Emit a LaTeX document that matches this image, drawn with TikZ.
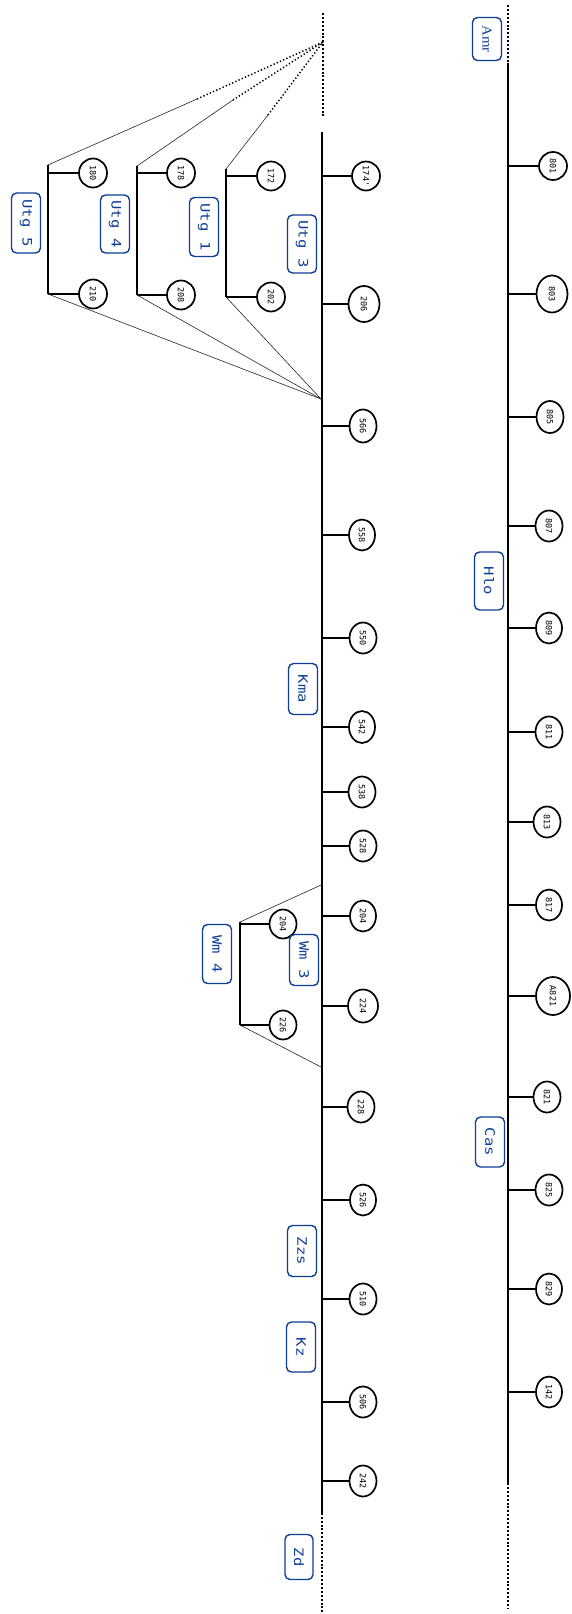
\documentclass[tikz,border=0pt]{standalone}
\usepackage{fontspec}
\usetikzlibrary{shapes.geometric}
\newfontfamily\numfam{DejaVu Sans Mono}
\newfontfamily\tagfam[FakeStretch=1.2]{DejaVu Sans Mono}
\newfontfamily\amrfam[FakeStretch=1.1]{Liberation Serif}
\definecolor{tagblue}{RGB}{14,62,150}
\begin{document}
\begin{tikzpicture}[x=1pt,y=-1pt,
  bus/.style={line width=2.4pt},
  busdots/.style={line width=2.6pt, dash pattern=on 2pt off 1.9pt},
  stub/.style={line width=2pt},
  bar/.style={line width=2.2pt},
  fan/.style={line width=0.6pt, draw=black!85},
  fandots/.style={line width=1.5pt, dash pattern=on 1.3pt off 2.2pt},
  num/.style={ellipse, draw, line width=1.7pt, inner sep=0pt, rotate=-90,
    fill=white, font=\numfam\fontsize{8.5}{8.5}\selectfont},
  tag/.style={draw=tagblue, text=tagblue, rounded corners=5pt, line width=1.4pt,
    rotate=-90, minimum height=29, inner sep=0pt, fill=white,
    font=\tagfam\fontsize{13}{13}\selectfont}]
\useasboundingbox (0,0) rectangle (571,1614);
\fill[white] (0,0) rectangle (571,1614);

% ---- right bus ----
\coordinate (rTop) at (508,5);
\coordinate (rA) at (508,63);
\coordinate (rB) at (508,1483);
\coordinate (rEnd) at (508,1608);
\draw[busdots] (rTop) -- (rA);
\draw[bus] (rA) -- (rB);
\draw[busdots] (rB) -- (rEnd);

\foreach \nm/\lab/\yy/\cx/\w/\h in {
  r801/801/166/553/28/28, r803/803/294/552/31/37, r805/805/417/550/27/32,
  r807/807/526/549/27/31, r809/809/628/549/26/31, r811/811/732/549/27/31,
  r813/813/822/547/27/31, r817/817/905/549/26/31, rA821/A821/996/553/34/38,
  r821/821/1097/547/27/31, r825/825/1190/549/27/31, r829/829/1289/549/26/31,
  r142/142/1392/549/26/31}{
  \node[num, minimum width=\h, minimum height=\w] (\nm) at (\cx,\yy) {\lab};
  \coordinate (b\nm) at (508,\yy);
  \draw[stub] (b\nm) -- (\nm);
}

% ---- main bus ----
\coordinate (mTop) at (323,13);
\coordinate (mTopEnd) at (323,117);
\coordinate (mA) at (322,132);
\coordinate (mB) at (322,1513);
\coordinate (mC) at (322,1505);
\coordinate (mEnd) at (322,1613);
\draw[busdots] (mTop) -- (mTopEnd);
\draw[bus] (mA) -- (mB);
\draw[busdots] (mC) -- (mEnd);

\foreach \nm/\lab/\yy/\cx/\w/\h in {
  m174/174'/176/366/28/29, m206/206/304/364/31/36, m566/566/426/363/27/33,
  m558/558/535/362/26/31, m550/550/638/363/27/31, m542/542/727/362/26/32,
  m538/538/792/362/27/31, m528/528/846/363/27/31, m204/204/916/363/26/31,
  m224/224/1006/363/30/33, m228/228/1107/361/27/31, m526/526/1200/363/26/31,
  m510/510/1299/363/27/31, m506/506/1402/363/27/31, m242/242/1481/363/27/31}{
  \node[num, minimum width=\h, minimum height=\w] (\nm) at (\cx,\yy) {\lab};
  \coordinate (b\nm) at (322,\yy);
  \draw[stub] (b\nm) -- (\nm);
}

% ---- side groups ----
\coordinate (hubT) at (323,42);
\coordinate (hubB) at (321,399);

\foreach \g/\bx/\ty/\by/\la/\ya/\lb/\yb/\nx/\mx/\my in {
  u5/48/165/294/180/173/210/294/93/197/99,
  u4/137/166/295/178/173/208/295/181/233/100,
  u1/226/169/297/172/176/202/297/271/268/115}{
  \coordinate (\g top) at (\bx,\ty);
  \coordinate (\g bot) at (\bx,\by);
  \coordinate (\g mid) at (\mx,\my);
  \coordinate (\g sa) at (\bx,\ya);
  \coordinate (\g sb) at (\bx,\yb);
  \draw[bar] (\g top) -- (\g bot);
  \node[num, minimum width=29, minimum height=28] (\g a) at (\nx,\ya) {\la};
  \node[num, minimum width=29, minimum height=28] (\g b) at (\nx,\yb) {\lb};
  \draw[stub] (\g sa) -- (\g a);
  \draw[stub] (\g sb) -- (\g b);
  \draw[fan] (\g top) -- (\g mid);
  \draw[fandots] (\g mid) -- (hubT);
  \draw[fan] (\g bot) -- (hubB);
}

% Wm 4 group
\coordinate (w4top) at (240,922);
\coordinate (w4bot) at (240,1025);
\coordinate (w4sa) at (240,924);
\coordinate (w4hubT) at (321,885);
\coordinate (w4hubB) at (321,1067);
\draw[bar] (w4top) -- (w4bot);
\node[num, minimum width=29, minimum height=27] (w4a) at (283,924) {204};
\node[num, minimum width=29, minimum height=27] (w4b) at (283,1025) {226};
\draw[stub] (w4sa) -- (w4a);
\draw[stub] (w4bot) -- (w4b);
\draw[fan] (w4top) -- (w4hubT);
\draw[fan] (w4bot) -- (w4hubB);

% ---- tags ----
\node[tag, minimum width=43, font=\amrfam\fontsize{13.5}{13.5}\selectfont] (tAmr) at (487,39) {Amr};
\node[tag, minimum width=58] (tHlo) at (489,581) {Hlo};
\node[tag, minimum width=50] (tCas) at (490,1142) {Cas};
\node[tag, minimum width=58] (tUtg3) at (302,244) {Utg 3};
\node[tag, minimum width=59] (tUtg1) at (204,227) {Utg 1};
\node[tag, minimum width=58] (tUtg4) at (115,224) {Utg 4};
\node[tag, minimum width=60] (tUtg5) at (26,223) {Utg 5};
\node[tag, minimum width=51] (tKma) at (303,689) {Kma};
\node[tag, minimum width=51] (tWm3) at (304,960) {Wm 3};
\node[tag, minimum width=59] (tWm4) at (217,954) {Wm 4};
\node[tag, minimum width=51] (tZzs) at (302,1251) {Zzs};
\node[tag, minimum width=50] (tKz) at (301,1347) {Kz};
\node[tag, minimum width=45, minimum height=28] (tZd) at (299,1557) {Zd};
\end{tikzpicture}
\end{document}
